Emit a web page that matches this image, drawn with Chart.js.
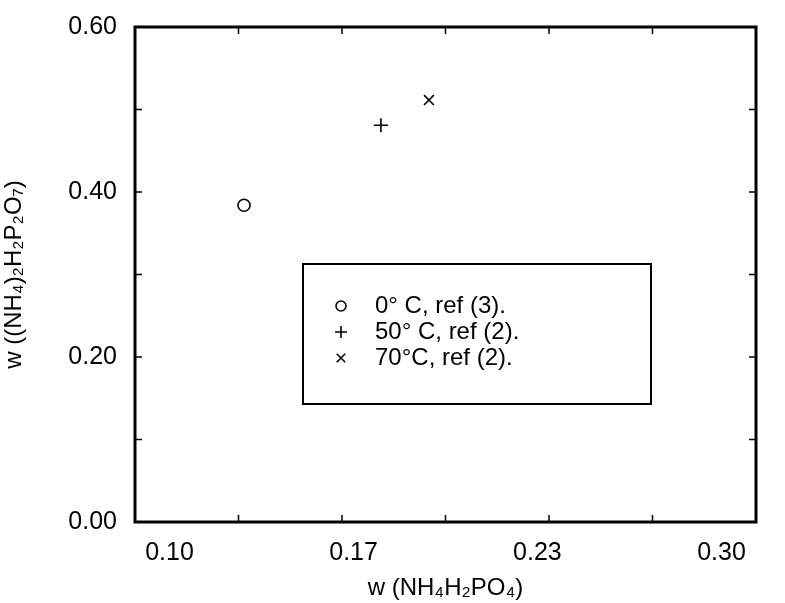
<!DOCTYPE html>
<html>
<head>
<meta charset="utf-8">
<script src="https://cdn.jsdelivr.net/npm/chart.js@4/dist/chart.umd.min.js"></script>
<style>
  body { margin: 0; background: #fff; }
  #wrap { width: 785px; height: 603px; }
</style>
</head>
<body>
<div id="wrap"><canvas id="c"></canvas></div>
<script>
// values
const seriesNames = ['0° C, ref (3).', '50° C, ref (2).', '70°C, ref (2).'];
const seriesStyles = ['circle', 'cross', 'crossRot'];
const xValues = [0.127, 0.1766, 0.194];
const yValues = [0.384, 0.481, 0.5115];

const xMin = 0.0875, xMax = 0.3125;
const xTickValues = [0.10, 0.1667, 0.2333, 0.30];
const xTickLabels = ['0.10', '0.17', '0.23', '0.30'];
const xMinorStep = 0.0375;
const yTickValues = [0, 0.2, 0.4, 0.6];
const yMinorStep = 0.1;

const font = "'Liberation Sans', Arial, sans-serif";

const datasets = seriesNames.map((name, i) => ({
    label: name,
    data: [{ x: xValues[i], y: yValues[i] }],
    pointStyle: seriesStyles[i],
    pointRadius: seriesStyles[i] === 'circle' ? 6 : 7,
    borderColor: '#000',
    backgroundColor: 'rgba(0,0,0,0)',
    pointBorderWidth: 1.6,
    showLine: false
}));

// frame, inner ticks and the boxed legend
const framePlugin = {
    id: 'frame',
    afterDraw(chart) {
        const ctx = chart.ctx;
        const a = chart.chartArea;
        const xs = chart.scales.x, ys = chart.scales.y;
        ctx.save();
        ctx.strokeStyle = '#000';
        ctx.lineWidth = 3;
        ctx.strokeRect(a.left, a.top, a.right - a.left, a.bottom - a.top);

        ctx.lineWidth = 1.5;
        for (let v = xMin; v <= xMax + 1e-9; v += xMinorStep) {
            const px = xs.getPixelForValue(v);
            ctx.beginPath();
            ctx.moveTo(px, a.bottom); ctx.lineTo(px, a.bottom - 7);
            ctx.moveTo(px, a.top); ctx.lineTo(px, a.top + 7);
            ctx.stroke();
        }
        for (let v = 0; v <= 0.6 + 1e-9; v += yMinorStep) {
            const py = ys.getPixelForValue(v);
            ctx.beginPath();
            ctx.moveTo(a.left, py); ctx.lineTo(a.left + 7, py);
            ctx.moveTo(a.right, py); ctx.lineTo(a.right - 7, py);
            ctx.stroke();
        }

        // legend box
        const bx = 303, by = 264, bw = 348, bh = 140;
        ctx.lineWidth = 2;
        ctx.strokeRect(bx, by, bw, bh);
        datasets.forEach((ds, i) => {
            const ly = by + 42 + i * 26;
            ctx.lineWidth = 1.6;
            ctx.fillStyle = 'rgba(0,0,0,0)';
            Chart.helpers.drawPoint(ctx, { pointStyle: ds.pointStyle, radius: ds.pointRadius - 1, borderWidth: 1.6 }, bx + 38, ly);
            ctx.font = '24px ' + font;
            ctx.fillStyle = '#000';
            ctx.textBaseline = 'middle';
            ctx.fillText(ds.label, bx + 72, ly);
        });
        ctx.restore();
    }
};

new Chart(document.getElementById('c'), {
    type: 'scatter',
    data: { datasets },
    options: {
        responsive: true,
        maintainAspectRatio: false,
        animation: false,
        layout: { padding: { top: 27, right: 29, left: 0, bottom: 0 } },
        plugins: { legend: { display: false }, tooltip: { enabled: false } },
        scales: {
            x: {
                type: 'linear',
                min: xMin,
                max: xMax,
                grid: { display: false },
                border: { display: false },
                afterBuildTicks(scale) {
                    scale.ticks = xTickValues.map(v => ({ value: v }));
                },
                afterFit(scale) { scale.height = 81; },
                ticks: {
                    color: '#000',
                    font: { family: font, size: 25 },
                    padding: 8,
                    maxRotation: 0,
                    callback: (v) => xTickLabels[xTickValues.indexOf(v)]
                },
                title: {
                    display: true,
                    text: 'w (NH₄H₂PO₄)',
                    color: '#000',
                    font: { family: font, size: 24 },
                    padding: { top: -8, bottom: 0 }
                }
            },
            y: {
                type: 'linear',
                min: 0,
                max: 0.6,
                grid: { display: false },
                border: { display: false },
                afterBuildTicks(scale) {
                    scale.ticks = yTickValues.map(v => ({ value: v }));
                },
                afterFit(scale) { scale.width = 135; },
                ticks: {
                    color: '#000',
                    font: { family: font, size: 25 },
                    padding: 10,
                    callback: (v) => v.toFixed(2)
                },
                title: {
                    display: true,
                    text: 'w ((NH₄)₂H₂P₂O₇)',
                    color: '#000',
                    font: { family: font, size: 24 },
                    padding: { top: 0, bottom: 0 }
                }
            }
        }
    },
    plugins: [framePlugin]
});
</script>
</body>
</html>
